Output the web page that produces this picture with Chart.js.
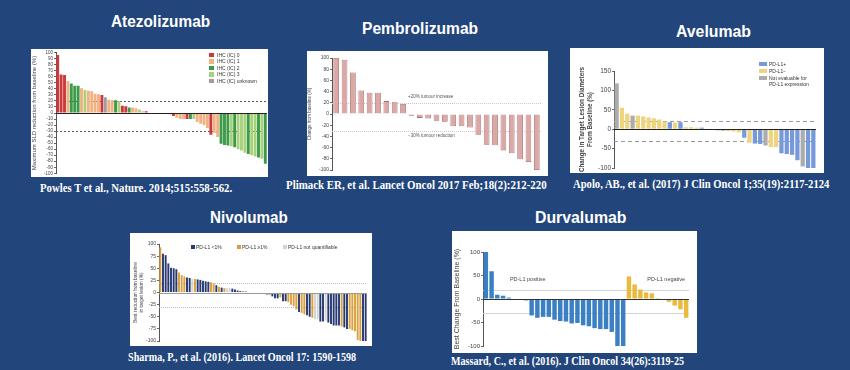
<!DOCTYPE html>
<html>
<head>
<meta charset="utf-8">
<script src="https://cdn.jsdelivr.net/npm/chart.js@4.4.0/dist/chart.umd.min.js"></script>
<style>
  body { margin: 0; width: 850px; height: 370px; overflow: hidden; position: relative; background: #22467b; font-family: 'Liberation Sans', Arial, sans-serif; }
  .box { position: absolute; background: #fff; }
  .box canvas { position: absolute; left: 0; top: 0; }
  .title { position: absolute; color: #fff; font-size: 16px; line-height: 16px; font-weight: bold; white-space: nowrap; transform-origin: 0 50%; }
  .cap { position: absolute; color: #fff; font-family: 'Liberation Serif', 'Times New Roman', serif; font-size: 13px; line-height: 13px; font-weight: bold; white-space: nowrap; transform-origin: 0 50%; }
  .leg { position: absolute; font-size: 5px; line-height: 5px; color: #333; white-space: nowrap; }
  .sw { position: absolute; }
</style>
</head>
<body>

<div class="title" style="left:111px;top:14px" data-w="99">Atezolizumab</div>
<div class="title" style="left:362px;top:21px" data-w="116">Pembrolizumab</div>
<div class="title" style="left:676px;top:24px" data-w="75">Avelumab</div>
<div class="title" style="left:210px;top:210px" data-w="78">Nivolumab</div>
<div class="title" style="left:535px;top:210px" data-w="91">Durvalumab</div>

<div class="box" style="left:31px;top:49px;width:237px;height:128px"><canvas id="atezo" width="237" height="128"></canvas></div>
<div class="box" style="left:307px;top:51px;width:241px;height:125px"><canvas id="pembro" width="241" height="125"></canvas></div>
<div class="box" style="left:570px;top:48px;width:254px;height:125px"><canvas id="avelu" width="254" height="125"></canvas></div>
<div class="box" style="left:130px;top:233px;width:242px;height:113px"><canvas id="nivo" width="242" height="113"></canvas></div>
<div class="box" style="left:452px;top:231px;width:245px;height:122px"><canvas id="durva" width="245" height="122"></canvas></div>

<div class="cap" style="left:40px;top:181px" data-w="192">Powles T et al., Nature. 2014;515:558-562.</div>
<div class="cap" style="left:286px;top:178px" data-w="261">Plimack ER, et al. Lancet Oncol 2017 Feb;18(2):212-220</div>
<div class="cap" style="left:573px;top:177px" data-w="256">Apolo, AB., et al. (2017) J Clin Oncol 1;35(19):2117-2124</div>
<div class="cap" style="left:128px;top:350px" data-w="228">Sharma, P., et al. (2016). Lancet Oncol 17: 1590-1598</div>
<div class="cap" style="left:451px;top:354px" data-w="233">Massard, C., et al. (2016). J Clin Oncol 34(26):3119-25</div>

<div id="legends"></div>

<script>
// ---- Atezolizumab (IHC groups: R=IC0, O=IC1, G=IC2, L=IC3, X=unknown)
const atezoValues = [96, 64, 63, 53, 49, 45, 45, 41, 38, 37, 36, 32, 31, 30, 26, 22, 21, 21, 20, 12,
  11, 9, 9, 8, 6, 3, 3, 1, -1, -1, -1, -1, -1, -2, -5, -8, -10, -10, -10, -10,
  -10, -15, -18, -20, -25, -36, -33, -40, -51, -53, -54, -55, -57, -60, -62, -66, -68, -70, -72, -74,
  -76, -84];
const atezoGroups = ['R','R','R','O','G','G','G','O','L','O','O','O','O','R','X','O','O','G','L','R',
  'R','G','O','O','L','O','R','O','G','G','G','G','G','G','R','O','O','O','R','G',
  'L','O','O','O','O','R','O','O','G','G','G','L','G','L','L','L','G','L','L','G',
  'L','G'];
const atezoLegend = ['IHC (IC) 0', 'IHC (IC) 1', 'IHC (IC) 2', 'IHC (IC) 3', 'IHC (IC) unknown'];
const atezoTicks = { min: -100, max: 100, step: 10 };

// ---- Pembrolizumab
const pembroValues = [100, 97, 74, 42, 38, 38, 23, 21, 18, -3, -7, -8, -12, -14, -22, -22, -24, -37,
  -55, -56, -65, -70, -81, -86, -100];
const pembroTicks = { min: -100, max: 100, step: 20 };

// ---- Avelumab (B=PD-L1+, Y=PD-L1-, X=not evaluable)
const aveluValues = [118, 55, 40, 35, 35, 33, 30, 28, 25, 20, 18, 17, 18, 5, 5, 4, 4, 1, -1, -3,
  -4, -5, -6, -8, -22, -35, -37, -38, -42, -46, -46, -62, -64, -66, -80, -96, -100, -100];
const aveluGroups = ['X','Y','Y','X','Y','Y','Y','Y','Y','Y','B','Y','B','Y','Y','Y','B','Y','Y','X',
  'X','Y','Y','Y','B','Y','B','B','X','Y','Y','B','B','B','B','X','B','B'];
const aveluLegend = ['PD-L1+', 'PD-L1\u2212', 'Not evaluable for', 'PD-L1 expression'];
const aveluTicks = { min: -100, max: 150, step: 50 };

// ---- Nivolumab (N=PD-L1 <1%, O=PD-L1 >=1%, G=not quantifiable)
const nivoValues = [93, 80, 77, 60, 51, 50, 48, 41, 36, 33, 31, 30, 28, 28, 27, 26, 24, 23, 22, 21,
  19, 15, 12, 10, 9, 9, 9, 8, 6, 4, 3, 2, 2, 1, 0, -1, -1, -2, -2, -3,
  -4, -5, -8, -12, -12, -10, -18, -18, -20, -25, -28, -35, -40, -42, -45, -47, -50, -52, -55, -55,
  -60, -60, -58, -62, -65, -68, -68, -68, -70, -72, -75, -75, -78, -80, -98, -100, -100, -100];
const nivoGroups = ['O','N','N','N','N','N','N','O','O','O','N','N','G','O','N','N','N','N','N','O',
  'O','N','O','N','O','G','G','N','N','N','N','N','N','N','N','N','N','O','N','N',
  'N','O','N','N','N','O','N','N','O','O','O','O','N','O','O','N','N','O','G','G',
  'N','N','G','N','N','N','N','N','O','N','N','O','O','O','O','O','N','N'];
const nivoLegend = ['PD-L1 <1%', 'PD-L1 \u22651%', 'PD-L1 not quantifiable'];
const nivoTicks = { min: -100, max: 100, step: 25 };

// ---- Durvalumab (B=PD-L1 positive, Y=PD-L1 negative)
const durvaValues = [100, 59, 9, 7, 3, 1, -1, -3, -35, -40, -38, -38, -44, -47, -48, -52, -51, -56, -58, -62,
  -64, -64, -70, -100, -100, 48, 31, 20, 14, 12, 2, 1, -6, -14, -22, -40];
const durvaGroups = ['B','B','B','B','B','B','B','B','B','B','B','B','B','B','B','B','B','B','B','B',
  'B','B','B','B','B','Y','Y','Y','Y','Y','Y','Y','Y','Y','Y','Y'];
const durvaTicks = { min: -100, max: 100, step: 50 };

const atezoColors = { R: '#cb3a3b', O: '#f3b182', G: '#3c9a48', L: '#a8d17c', X: '#9e9e9e' };
const aveluColors = { B: '#7599d9', Y: '#eed47f', X: '#acacac' };
const nivoColors = { N: '#283a74', O: '#d9a03f', G: '#d4d4d4' };
const durvaColors = { B: '#3b80c3', Y: '#e8ba3d' };

// reference lines, baseline and notes drawn through the chart's own scales
const refLines = {
  id: 'refLines',
  beforeDatasetsDraw(chart, args, o) {
    const { ctx, chartArea: a, scales: { x, y } } = chart;
    ctx.save();
    (o.lines || []).forEach(l => {
      const py = Math.round(y.getPixelForValue(l.value)) + 0.5;
      ctx.strokeStyle = l.color; ctx.lineWidth = l.width || 1; ctx.setLineDash(l.dash || []);
      ctx.beginPath(); ctx.moveTo(a.left, py); ctx.lineTo(a.right, py); ctx.stroke();
    });
    ctx.setLineDash([]);
    (o.notes || []).forEach(n => {
      ctx.font = n.font; ctx.fillStyle = n.color || '#555'; ctx.textBaseline = 'middle';
      ctx.fillText(n.text, x.getPixelForValue(n.at), y.getPixelForValue(n.value));
    });
    ctx.restore();
  },
  afterDatasetsDraw(chart, args, o) {
    if (!o.zero) return;
    const { ctx, chartArea: a, scales: { y } } = chart;
    const py = Math.round(y.getPixelForValue(0)) + 0.5;
    ctx.save();
    ctx.strokeStyle = o.zero; ctx.lineWidth = o.zeroWidth || 1;
    ctx.beginPath(); ctx.moveTo(a.left, py); ctx.lineTo(a.right, py); ctx.stroke();
    ctx.restore();
  }
};

function waterfall(id, values, colors, cfg) {
  return new Chart(document.getElementById(id), {
    type: 'bar',
    data: {
      labels: values.map((v, i) => i + 1),
      datasets: [{
        data: values,
        backgroundColor: colors,
        borderColor: cfg.border || colors,
        borderWidth: cfg.borderWidth || 0,
        barPercentage: cfg.barPct,
        categoryPercentage: 1
      }]
    },
    options: {
      responsive: false,
      animation: false,
      events: [],
      layout: { padding: cfg.pad },
      plugins: { legend: { display: false }, tooltip: { enabled: false }, refLines: cfg.ref },
      scales: {
        x: { display: false },
        y: {
          min: cfg.ticks.min, max: cfg.ticks.max,
          afterFit: s => { s.width = cfg.axisW; },
          ticks: { stepSize: cfg.ticks.step, autoSkip: false, font: { size: cfg.tickSize, family: 'Liberation Sans' }, color: '#444', padding: 1 },
          grid: { drawOnChartArea: false, tickLength: 2, color: '#666' },
          border: { color: '#555', width: 1 },
          title: { display: true, text: cfg.yTitle, font: { size: cfg.titleSize, weight: cfg.titleWeight || 'normal', family: 'Liberation Sans', lineHeight: 1.15 }, color: '#444', padding: cfg.titlePad || 0 }
        }
      }
    },
    plugins: [refLines]
  });
}

waterfall('atezo', atezoValues, atezoGroups.map(g => atezoColors[g]), {
  ticks: atezoTicks, axisW: 25, pad: { top: 2, bottom: 1, right: 1, left: 0 }, barPct: 0.85,
  tickSize: 4.5, yTitle: 'Maximum SLD reduction from baseline (%)', titleSize: 6,
  ref: { lines: [{ value: 20, color: '#555', dash: [2, 2] }, { value: -30, color: '#555', dash: [2, 2] }], zero: '#222' }
});

waterfall('pembro', pembroValues, pembroValues.map(() => '#dba8a6'), {
  ticks: pembroTicks, axisW: 25, pad: { top: 7, bottom: 6, right: 7, left: 0 }, barPct: 0.68,
  border: '#a36767', borderWidth: 0.8,
  tickSize: 5, yTitle: 'Change from baseline (%)', titleSize: 4.5,
  ref: {
    lines: [{ value: 20, color: '#c8c8c8', dash: [1, 1] }, { value: -30, color: '#c8c8c8', dash: [1, 1] }],
    notes: [{ text: '+20% tumour increase', at: 8.6, value: 30, font: '4.5px Liberation Sans' },
            { text: '\u221230% tumour reduction', at: 8.6, value: -39, font: '4.5px Liberation Sans' }]
  }
});

waterfall('avelu', aveluValues, aveluGroups.map(g => aveluColors[g]), {
  ticks: aveluTicks, axisW: 44, pad: { top: 23, bottom: 5, right: 8, left: 0 }, barPct: 0.8,
  tickSize: 6.5, yTitle: ['Change in Target Lesion Diameters', 'From Baseline (%)'], titleSize: 6.3, titleWeight: 'bold', titlePad: { top: 9, bottom: 0 },
  ref: { lines: [{ value: 20, color: '#9a9a9a', dash: [4, 3] }, { value: -30, color: '#9a9a9a', dash: [4, 3] }], zero: '#222' }
});

waterfall('nivo', nivoValues, nivoGroups.map(g => nivoColors[g]), {
  ticks: nivoTicks, axisW: 29, pad: { top: 11, bottom: 5, right: 5, left: 0 }, barPct: 0.72,
  tickSize: 5, yTitle: ['Best reduction from baseline', 'in target lesion (%)'], titleSize: 4.8, titlePad: { top: 3, bottom: 0 },
  ref: { lines: [{ value: 20, color: '#bdbdbd', dash: [1, 1] }, { value: -30, color: '#bdbdbd', dash: [1, 1] }], zero: '#9a9a9a' }
});

waterfall('durva', durvaValues, durvaGroups.map(g => durvaColors[g]), {
  ticks: durvaTicks, axisW: 31, pad: { top: 21, bottom: 7, right: 8, left: 0 }, barPct: 0.78,
  tickSize: 6, yTitle: 'Best Change From Baseline (%)', titleSize: 7, titlePad: { top: 1, bottom: 0 },
  ref: {
    lines: [{ value: 20, color: '#d4d4d4', dash: [] }, { value: -30, color: '#d4d4d4', dash: [] }],
    notes: [{ text: 'PD-L1 positive', at: 4.2, value: 42, font: '5.5px Liberation Sans', color: '#444' },
            { text: 'PD-L1 negative', at: 28.2, value: 42, font: '5.5px Liberation Sans', color: '#444' }],
    zero: '#333'
  }
});

// HTML legends
const legendBox = document.getElementById('legends');
function legItem(x, y, w, h, color, text, tx) {
  if (color) {
    const s = document.createElement('div');
    s.className = 'sw';
    s.style.cssText = `left:${x}px;top:${y - h / 2}px;width:${w}px;height:${h}px;background:${color}`;
    legendBox.appendChild(s);
  }
  const t = document.createElement('div');
  t.className = 'leg';
  t.style.left = tx + 'px';
  t.style.top = (y - 2.5) + 'px';
  t.textContent = text;
  legendBox.appendChild(t);
}
['R', 'O', 'G', 'L', 'X'].forEach((g, i) =>
  legItem(209, 55 + i * 6.5, 5, 4.5, atezoColors[g], atezoLegend[i], 217));
legItem(759, 64, 8, 4, aveluColors.B, aveluLegend[0], 769);
legItem(759, 71, 8, 4, aveluColors.Y, aveluLegend[1], 769);
legItem(759, 78, 8, 4, aveluColors.X, aveluLegend[2], 769);
legItem(0, 84, 0, 0, null, aveluLegend[3], 769);
legItem(191, 247, 3.5, 3.5, nivoColors.N, nivoLegend[0], 196);
legItem(237, 247, 3.5, 3.5, nivoColors.O, nivoLegend[1], 242);
legItem(283, 247, 3.5, 3.5, nivoColors.G, nivoLegend[2], 288);

// squeeze titles and captions to the measured widths
document.querySelectorAll('[data-w]').forEach(el => {
  el.style.transform = `scaleX(${+el.dataset.w / el.offsetWidth})`;
});
</script>
</body>
</html>
